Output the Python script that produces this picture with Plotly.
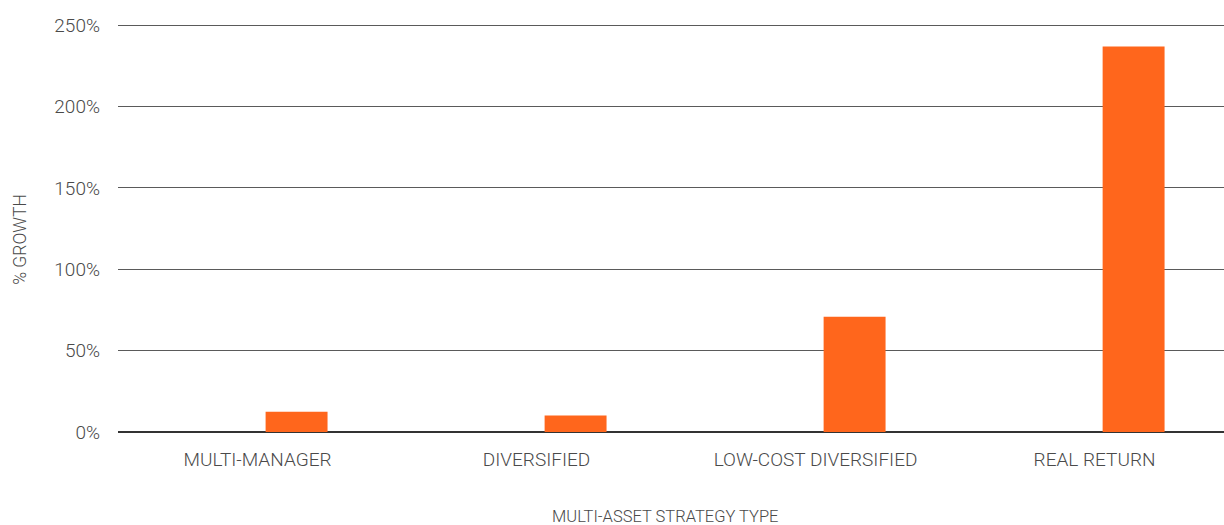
import plotly.graph_objects as go

categories = ["MULTI-MANAGER", "DIVERSIFIED", "LOW-COST DIVERSIFIED", "REAL RETURN"]
growth_pct = [12.5, 10.2, 70.8, 237.0]
y_tick_values = [0, 50, 100, 150, 200, 250]
y_tick_labels = ["0%", "50%", "100%", "150%", "200%", "250%"]

FONT = "Roboto, sans-serif"
TXT = "#4a4a4a"

W, H = 1224, 525
PLOT_L, ZERO_Y = 118, 432.5
PX_PER_UNIT = 407.5 / 250
Y_TOP = 252
top_px = 25 - (Y_TOP - 250) * PX_PER_UNIT
plot_h = ZERO_Y - top_px
plot_w = W - PLOT_L

fig = go.Figure()
fig.add_trace(go.Bar(
    x=categories, y=growth_pct,
    marker=dict(color="#ff661c", line=dict(width=0)),
    width=0.222, offset=0.029,
    hoverinfo="skip",
))

fig.update_layout(
    width=W, height=H,
    margin=dict(l=PLOT_L, r=0, t=top_px, b=H - ZERO_Y, pad=0),
    paper_bgcolor="white", plot_bgcolor="white",
    showlegend=False,
    font=dict(family=FONT, color=TXT, size=19),
    xaxis=dict(
        range=[-0.5, 3.464],
        showgrid=False, ticks="", showline=False, zeroline=False,
        tickfont=dict(family=FONT, size=19, color=TXT, weight=300),
        ticklabelstandoff=14,
    ),
    yaxis=dict(
        range=[0, Y_TOP],
        tickvals=y_tick_values, ticktext=y_tick_labels,
        showgrid=True, gridcolor="#5a5a5a", gridwidth=1,
        zeroline=True, zerolinecolor="#333333", zerolinewidth=1.5,
        ticks="", showline=False,
        tickfont=dict(family=FONT, size=19, color=TXT, weight=300),
        ticklabelstandoff=17,
    ),
    annotations=[
        dict(
            text="MULTI-ASSET STRATEGY TYPE", xref="paper", yref="paper",
            x=(664.5 - PLOT_L) / plot_w, y=-(517 - ZERO_Y) / plot_h,
            xanchor="center", yanchor="middle", showarrow=False,
            font=dict(family=FONT, size=16.5, color=TXT, weight=300),
        ),
        dict(
            text="% GROWTH", xref="paper", yref="paper", textangle=-90,
            x=(20 - PLOT_L) / plot_w, y=(ZERO_Y - 240) / plot_h,
            xanchor="center", yanchor="middle", showarrow=False,
            font=dict(family=FONT, size=17.5, color=TXT, weight=300),
        ),
    ],
)

fig.write_html(
    "out.html",
    config={"displayModeBar": False, "staticPlot": True},
    post_script="document.body.style.margin='0';document.body.style.overflow='hidden';",
)
